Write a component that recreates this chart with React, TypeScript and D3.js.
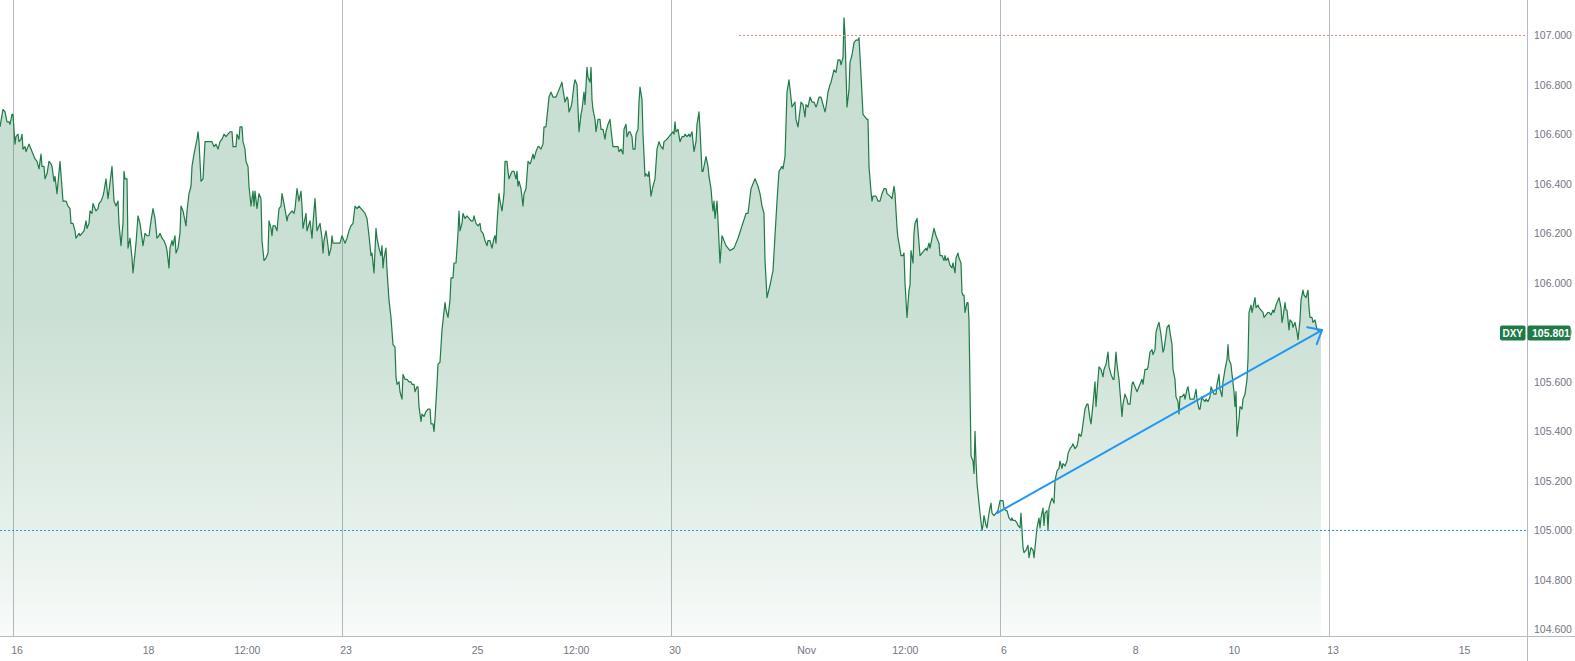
import React from "react";
import * as d3 from "d3";

// ---- data -------------------------------------------------------------
// x: bar index since first visible bar (~22 minute bars, 65.8 bars per trading day)
// Mon Oct 16 00:00 falls on bar 13.
const SESSION_START_BAR = 13;
const BARS_PER_DAY = 65.8;

const dxy: [number, number][] = [
  [0,106.63],[3,106.70],[5,106.69],[7,106.65],[9,106.65],[10,106.64],[12,106.68],[13,106.68],[15,106.56],[16,106.59],[18,106.60],[19,106.57],[21,106.58],[22,106.60],[23,106.54],[25,106.55],[26,106.53],[29,106.56],[31,106.54],[33,106.52],[35,106.50],[37,106.49],[39,106.46],[41,106.52],[42,106.47],[44,106.47],[45,106.42],[47,106.44],[49,106.49],[51,106.48],[52,106.47],[54,106.41],[55,106.43],[57,106.36],[60,106.49],[63,106.33],[66,106.33],[68,106.31],[70,106.30],[71,106.24],[73,106.24],[75,106.21],[76,106.18],[79,106.20],[80,106.19],[82,106.20],[84,106.21],[86,106.25],[87,106.22],[89,106.24],[90,106.29],[92,106.28],[93,106.32],[96,106.29],[98,106.30],[99,106.32],[101,106.33],[103,106.35],[104,106.37],[106,106.42],[108,106.34],[109,106.37],[112,106.47],[114,106.33],[116,106.31],[118,106.33],[119,106.24],[121,106.15],[123,106.24],[124,106.45],[125,106.42],[127,106.42],[128,106.14],[130,106.18],[132,106.10],[133,106.04],[136,106.16],[138,106.27],[140,106.24],[143,106.15],[145,106.20],[147,106.19],[149,106.19],[151,106.25],[153,106.30],[155,106.26],[157,106.18],[159,106.19],[160,106.20],[162,106.18],[164,106.17],[166,106.15],[167,106.13],[169,106.06],[170,106.14],[172,106.17],[173,106.15],[175,106.19],[176,106.12],[178,106.14],[180,106.20],[181,106.31],[183,106.29],[184,106.27],[186,106.23],[187,106.29],[189,106.36],[191,106.39],[192,106.47],[194,106.52],[196,106.56],[197,106.58],[198,106.61],[199,106.57],[201,106.41],[203,106.42],[205,106.57],[207,106.57],[209,106.57],[212,106.57],[214,106.55],[216,106.56],[218,106.54],[220,106.57],[222,106.58],[224,106.60],[226,106.59],[228,106.60],[230,106.61],[232,106.61],[233,106.55],[236,106.55],[237,106.60],[239,106.58],[240,106.63],[242,106.63],[243,106.57],[245,106.54],[246,106.49],[248,106.47],[249,106.39],[251,106.31],[253,106.37],[254,106.31],[255,106.37],[257,106.30],[259,106.36],[261,106.34],[262,106.17],[264,106.09],
  [266,106.10],[268,106.12],[269,106.25],[271,106.22],[272,106.19],[273,106.23],[275,106.23],[277,106.21],[279,106.30],[281,106.31],[282,106.36],[284,106.32],[287,106.25],[288,106.27],[290,106.28],[292,106.29],[294,106.28],[295,106.30],[297,106.38],[299,106.33],[301,106.37],[302,106.31],[303,106.22],[304,106.24],[306,106.28],[307,106.21],[310,106.25],[312,106.18],[313,106.24],[315,106.34],[317,106.21],[318,106.22],[320,106.24],[322,106.18],[323,106.12],[324,106.17],[326,106.21],[328,106.15],[329,106.11],[331,106.14],[332,106.19],[333,106.16],[336,106.16],[338,106.16],[340,106.16],[342,106.19],[343,106.18],[345,106.16],[347,106.18],[349,106.21],[351,106.23],[353,106.24],[355,106.31],[357,106.30],[359,106.31],[361,106.30],[363,106.29],[365,106.28],[367,106.26],[369,106.19],[371,106.11],[372,106.12],[374,106.04],[376,106.22],[377,106.18],[379,106.14],[381,106.11],[382,106.15],[383,106.06],[384,106.10],[386,106.14],[387,106.05],[389,105.93],[391,105.86],[393,105.75],[395,105.74],[396,105.62],[397,105.59],[399,105.60],[400,105.56],[402,105.53],[403,105.63],[405,105.61],[407,105.61],[409,105.60],[411,105.60],[412,105.59],[414,105.59],[415,105.56],[417,105.58],[418,105.58],[419,105.50],[421,105.44],[422,105.47],[424,105.46],[426,105.48],[428,105.49],[430,105.49],[431,105.43],[433,105.43],[434,105.40],[435,105.45],[437,105.59],[438,105.67],[440,105.68],[442,105.81],[445,105.92],[446,105.89],[448,105.86],[450,105.93],[451,106.02],[453,106.02],[454,106.08],[456,106.08],[458,106.20],[459,106.29],[460,106.21],[462,106.24],[463,106.28],[465,106.26],[467,106.27],[469,106.26],[471,106.25],[473,106.25],[474,106.27],[476,106.24],[478,106.23],[480,106.24],[481,106.21],[483,106.20],[485,106.17],[487,106.15],[488,106.17],[490,106.17],[492,106.14],[494,106.18],[495,106.19],[496,106.16],[497,106.24],[499,106.36],[500,106.33],[502,106.29],[504,106.36],[505,106.49],[507,106.49],[508,106.45],[509,106.42],[511,106.44],[512,106.45],[514,106.45],[516,106.42],[517,106.45],[518,106.39],[519,106.41],[521,106.38],[523,106.31],[524,106.36],[526,106.38],
  [528,106.49],[530,106.48],[531,106.49],[533,106.52],[534,106.50],[536,106.53],[538,106.55],[539,106.55],[541,106.54],[543,106.56],[544,106.63],[546,106.63],[547,106.67],[549,106.75],[551,106.77],[553,106.75],[556,106.75],[558,106.77],[560,106.79],[562,106.81],[563,106.78],[565,106.73],[567,106.75],[568,106.74],[569,106.69],[571,106.71],[572,106.73],[574,106.80],[575,106.82],[577,106.80],[579,106.61],[581,106.68],[582,106.70],[584,106.77],[585,106.72],[587,106.87],[588,106.83],[590,106.81],[591,106.87],[592,106.74],[593,106.70],[595,106.66],[596,106.61],[598,106.66],[600,106.66],[601,106.62],[603,106.62],[605,106.58],[606,106.61],[608,106.64],[610,106.66],[611,106.62],[613,106.55],[616,106.55],[618,106.55],[619,106.53],[621,106.54],[623,106.52],[624,106.62],[626,106.64],[627,106.59],[629,106.61],[630,106.61],[632,106.59],[633,106.54],[635,106.54],[636,106.60],[638,106.62],[639,106.73],[640,106.79],[642,106.74],[643,106.60],[645,106.43],[646,106.44],[648,106.43],[649,106.45],[651,106.35],[653,106.39],[655,106.42],[657,106.54],[659,106.57],[661,106.55],[663,106.54],[664,106.57],[667,106.58],[671,106.60],[673,106.61],[674,106.60],[675,106.65],[676,106.61],[678,106.62],[680,106.57],[682,106.59],[684,106.59],[685,106.60],[687,106.59],[689,106.60],[690,106.59],[692,106.61],[693,106.57],[694,106.53],[696,106.57],[697,106.64],[699,106.69],[700,106.62],[702,106.45],[703,106.45],[704,106.47],[706,106.51],[708,106.47],[709,106.43],[711,106.38],[712,106.33],[713,106.29],[714,106.33],[715,106.26],[717,106.33],[718,106.25],[720,106.08],[722,106.19],[726,106.15],[730,106.13],[734,106.14],[738,106.18],[742,106.23],[746,106.28],[748,106.28],[751,106.38],[755,106.42],[758,106.39],[760,106.36],[762,106.31],[764,106.28],[765,106.09],[767,105.94],[770,105.99],[773,106.05],[777,106.33],[779,106.45],[782,106.47],[783,106.46],[785,106.51],[787,106.77],[789,106.82],
  [792,106.71],[795,106.73],[796,106.66],[798,106.63],[801,106.73],[803,106.72],[805,106.67],[806,106.72],[808,106.71],[810,106.75],[812,106.73],[814,106.73],[816,106.71],[817,106.72],[819,106.75],[821,106.75],[823,106.72],[825,106.69],[826,106.71],[828,106.77],[830,106.80],[831,106.81],[834,106.86],[836,106.85],[838,106.90],[840,106.90],[841,106.88],[843,106.91],[844,107.07],[845,107.00],[847,106.71],[849,106.78],[850,106.89],[852,106.92],[854,106.97],[856,106.98],[858,106.98],[859,106.99],[861,106.84],[863,106.68],[865,106.67],[867,106.66],[868,106.66],[869,106.47],[871,106.37],[872,106.33],[873,106.35],[874,106.35],[876,106.35],[878,106.33],[880,106.33],[882,106.36],[884,106.38],[886,106.38],[887,106.36],[890,106.35],[892,106.34],[894,106.39],[895,106.36],[897,106.22],[898,106.18],[899,106.16],[901,106.11],[903,106.11],[904,106.12],[905,106.00],[907,105.86],[909,105.97],[910,105.99],[911,106.13],[913,106.08],[914,106.20],[915,106.24],[917,106.26],[918,106.21],[920,106.11],[922,106.12],[924,106.13],[926,106.14],[927,106.13],[929,106.16],[930,106.14],[932,106.18],[934,106.22],[936,106.19],[938,106.17],[939,106.16],[940,106.11],[942,106.11],[944,106.09],[945,106.11],[946,106.09],[948,106.10],[950,106.07],[952,106.06],[953,106.08],[955,106.04],[956,106.10],[958,106.12],[959,106.10],[961,106.08],[962,105.96],[963,105.95],[964,105.95],[965,105.88],[967,105.92],[968,105.92],[969,105.85],[971,105.30],[973,105.28],[974,105.23],[975,105.40],[976,105.28],[977,105.19],[979,105.11],[980,105.07],[982,105.00],[983,105.02],[984,105.06],[986,105.02],[987,105.01],[989,105.07],[991,105.11],[992,105.07],[994,105.06],[996,105.07],[998,105.08],[1000,105.12],[1003,105.12],[1004,105.09],[1006,105.08],[1007,105.08],[1009,105.05],[1011,105.04],[1012,105.05],[1013,105.04],[1015,105.04],[1017,105.03],[1018,105.02],[1020,105.01],[1021,105.07],[1022,105.00],[1023,104.93],[1024,104.91],[1026,104.92],[1028,104.94],[1029,104.89],[1031,104.93],[1033,104.92],[1034,104.89],[1036,104.97],[1037,105.01],[1039,105.05],[1040,105.01],[1041,105.05],[1043,105.09],[1044,105.02],[1045,105.07],[1047,105.08],[1048,105.00],[1049,105.09],[1051,105.12],[1052,105.13],[1054,105.11],[1055,105.20],[1057,105.24],[1059,105.25],[1060,105.28],[1062,105.25],[1063,105.27],[1065,105.26],[1067,105.28],[1068,105.31],[1070,105.33],[1072,105.34],[1073,105.35],[1075,105.33],[1077,105.34],[1078,105.36],[1079,105.39],[1081,105.38],[1082,105.40],[1084,105.46],[1085,105.49],[1087,105.51],[1088,105.51],[1090,105.45],[1091,105.43],[1093,105.51],[1095,105.60],[1096,105.50],[1098,105.61],[1099,105.66],[1101,105.65],[1103,105.62],[1104,105.65],[1106,105.67],[1108,105.72],[1109,105.66],[1111,105.63],[1113,105.61],[1114,105.61],[1116,105.72],[1117,105.67],[1119,105.61],[1120,105.56],[1122,105.46],[1123,105.51],[1125,105.55],[1127,105.53],[1128,105.51],[1130,105.51],[1132,105.59],[1133,105.60],[1135,105.58],[1137,105.56],[1138,105.57],[1140,105.59],[1142,105.61],[1143,105.59],[1145,105.65],[1147,105.65],[1148,105.66],[1150,105.72],[1152,105.73],[1153,105.71],[1155,105.73],[1156,105.80],[1158,105.83],[1159,105.84],[1161,105.79],[1163,105.72],[1164,105.73],[1166,105.79],[1167,105.82],[1169,105.83],[1170,105.80],[1172,105.75],[1173,105.65],[1175,105.61],[1176,105.54],[1178,105.52],[1179,105.47],[1180,105.54],[1182,105.54],[1184,105.55],[1185,105.53],[1187,105.57],[1188,105.58],[1190,105.53],[1191,105.53],[1193,105.53],[1194,105.53],[1196,105.57],[1197,105.53],[1199,105.49],[1200,105.49],[1202,105.54],[1203,105.53],[1205,105.52],[1206,105.53],[1208,105.52],[1210,105.54],[1211,105.58],[1213,105.56],[1214,105.55],[1216,105.55],[1217,105.59],[1219,105.63],[1220,105.57],[1222,105.54],[1223,105.60],[1225,105.65],[1227,105.69],[1228,105.75],[1229,105.69],[1231,105.67],[1232,105.63],[1234,105.56],[1235,105.50],[1236,105.56],[1237,105.38],[1239,105.45],[1240,105.50],[1242,105.49],[1243,105.53],[1245,105.55],[1247,105.61],[1248,105.69],[1249,105.88],[1251,105.91],[1252,105.88],[1253,105.90],[1255,105.94],[1256,105.90],[1258,105.91],[1259,105.90],[1261,105.89],[1263,105.88],[1264,105.86],[1266,105.87],[1268,105.88],[1269,105.88],[1271,105.87],[1273,105.89],[1274,105.88],[1276,105.91],[1278,105.93],[1279,105.94],[1281,105.90],[1282,105.84],[1283,105.86],[1285,105.92],[1286,105.89],[1287,105.89],[1289,105.81],[1290,105.85],[1292,105.84],[1293,105.82],[1295,105.84],[1297,105.80],[1298,105.77],[1300,105.85],[1301,105.93],[1303,105.97],[1304,105.95],[1306,105.94],[1308,105.97],[1309,105.90],[1310,105.86],[1312,105.86],[1313,105.84],[1315,105.85],[1317,105.81],[1321,105.801],
];

const symbol = "DXY";
const lastPrice = 105.801;

const priceTicks = [104.6, 104.8, 105.0, 105.2, 105.4, 105.6, 105.8, 106.0, 106.2, 106.4, 106.6, 106.8, 107.0];

// trading-day offsets (from Mon Oct 16) for the time-axis labels
const timeTickDays = [0, 2, 3.5, 5, 7, 8.5, 10, 12, 13.5, 15, 17, 18.5, 20, 22];
const timeTickLabels = ["16", "18", "12:00", "23", "25", "12:00", "30", "Nov", "12:00", "6", "8", "10", "13", "15"];
const weekStartDays = [0, 5, 10, 15, 20];

// drawings
const resistanceLevel = 107.0;
const resistanceStartBar = 739;
const supportLevel = 105.0;
const trendStart: [number, number] = [997, 105.07];
const trendEnd: [number, number] = [1322, 105.809];

// ---- layout ----------------------------------------------------------
const W = 1575;
const H = 661;
const PLOT_RIGHT = 1527.5;
const PLOT_BOTTOM = 636.5;

const LINE = "#1f7a47";
const GRID = "#b7bac2";
const TEXT = "#737682";
const BLUE = "#2196f3";
const FONT = "'Liberation Sans', Arial, sans-serif";

export default function App() {
  const x = d3.scaleLinear().domain([0, PLOT_RIGHT]).range([0, PLOT_RIGHT]);
  const y = d3.scaleLinear().domain([104.6, 107.0]).range([629.4, 35.2]);
  const dayToBar = (d: number) => SESSION_START_BAR + d * BARS_PER_DAY;

  const area = d3
    .area<[number, number]>()
    .x((d) => x(d[0]))
    .y0(PLOT_BOTTOM)
    .y1((d) => y(d[1]));
  const line = d3
    .line<[number, number]>()
    .x((d) => x(d[0]))
    .y((d) => y(d[1]));

  const tx0 = x(trendStart[0]);
  const ty0 = y(trendStart[1]);
  const tx1 = x(trendEnd[0]);
  const ty1 = y(trendEnd[1]);
  const back = Math.atan2(ty0 - ty1, tx0 - tx1);
  const wing = (40 * Math.PI) / 180;
  const wl = 15;
  const w1 = [tx1 + wl * Math.cos(back + wing), ty1 + wl * Math.sin(back + wing)];
  const w2 = [tx1 + wl * Math.cos(back - wing), ty1 + wl * Math.sin(back - wing)];

  const ly = y(lastPrice);

  return (
    <svg
      width={W}
      height={H}
      style={{ position: "absolute", left: 0, top: 0, background: "#fff" }}
      fontFamily={FONT}
    >
      <defs>
        <linearGradient id="fillGrad" gradientUnits="userSpaceOnUse" x1="0" y1="0" x2="0" y2={PLOT_BOTTOM}>
          <stop offset="0" stopColor={LINE} stopOpacity={0.25} />
          <stop offset="0.5" stopColor={LINE} stopOpacity={0.23} />
          <stop offset="0.78" stopColor={LINE} stopOpacity={0.13} />
          <stop offset="1" stopColor={LINE} stopOpacity={0.03} />
        </linearGradient>
        <clipPath id="plotClip">
          <rect x={0} y={0} width={PLOT_RIGHT} height={PLOT_BOTTOM} />
        </clipPath>
      </defs>

      <g clipPath="url(#plotClip)">
        {weekStartDays.map((d) => (
          <line
            key={d}
            x1={Math.round(x(dayToBar(d))) + 0.5}
            x2={Math.round(x(dayToBar(d))) + 0.5}
            y1={0}
            y2={PLOT_BOTTOM}
            stroke={GRID}
            strokeWidth={1}
          />
        ))}
        <path d={area(dxy) || ""} fill="url(#fillGrad)" />
        <path d={line(dxy) || ""} fill="none" stroke={LINE} strokeWidth={1.2} strokeLinejoin="round" />

        <line
          x1={x(resistanceStartBar)}
          x2={PLOT_RIGHT}
          y1={Math.round(y(resistanceLevel)) + 0.5}
          y2={Math.round(y(resistanceLevel)) + 0.5}
          stroke="#f08080"
          strokeWidth={1}
          strokeDasharray="2 2"
        />
        <line
          x1={0}
          x2={PLOT_RIGHT}
          y1={Math.round(y(supportLevel)) + 0.5}
          y2={Math.round(y(supportLevel)) + 0.5}
          stroke={BLUE}
          strokeWidth={1}
          strokeDasharray="2 2"
        />

        <line x1={tx0} y1={ty0} x2={tx1} y2={ty1} stroke={BLUE} strokeWidth={2} strokeLinecap="round" />
        <polyline
          points={`${w1[0]},${w1[1]} ${tx1},${ty1} ${w2[0]},${w2[1]}`}
          fill="none"
          stroke={BLUE}
          strokeWidth={2}
          strokeLinecap="round"
          strokeLinejoin="round"
        />
      </g>

      {/* axes borders */}
      <line x1={PLOT_RIGHT} x2={PLOT_RIGHT} y1={0} y2={H} stroke={GRID} strokeWidth={1} />
      <line x1={0} x2={W} y1={PLOT_BOTTOM} y2={PLOT_BOTTOM} stroke={GRID} strokeWidth={1} />

      {/* price axis */}
      {priceTicks.map((p) => (
        <text key={p} x={1534} y={y(p)} dominantBaseline="central" fontSize={10.5} fill={TEXT}>
          {p.toFixed(3)}
        </text>
      ))}

      {/* time axis */}
      {timeTickDays.map((d, i) => (
        <text
          key={i}
          x={x(dayToBar(d)) + 4}
          y={650}
          textAnchor="middle"
          dominantBaseline="central"
          fontSize={10.5}
          fill={TEXT}
        >
          {timeTickLabels[i]}
        </text>
      ))}

      {/* last price labels */}
      <rect x={1500} y={ly - 6.5} width={25.5} height={15} rx={2} fill={LINE} />
      <text x={1512.75} y={ly + 1} textAnchor="middle" dominantBaseline="central" fontSize={10} fontWeight="bold" fill="#fff">
        {symbol}
      </text>
      <rect x={PLOT_RIGHT} y={ly - 6.5} width={43} height={15} rx={2} fill={LINE} />
      <text x={1532} y={ly + 1} dominantBaseline="central" fontSize={10.5} fontWeight="bold" fill="#fff">
        {lastPrice.toFixed(3)}
      </text>
    </svg>
  );
}
